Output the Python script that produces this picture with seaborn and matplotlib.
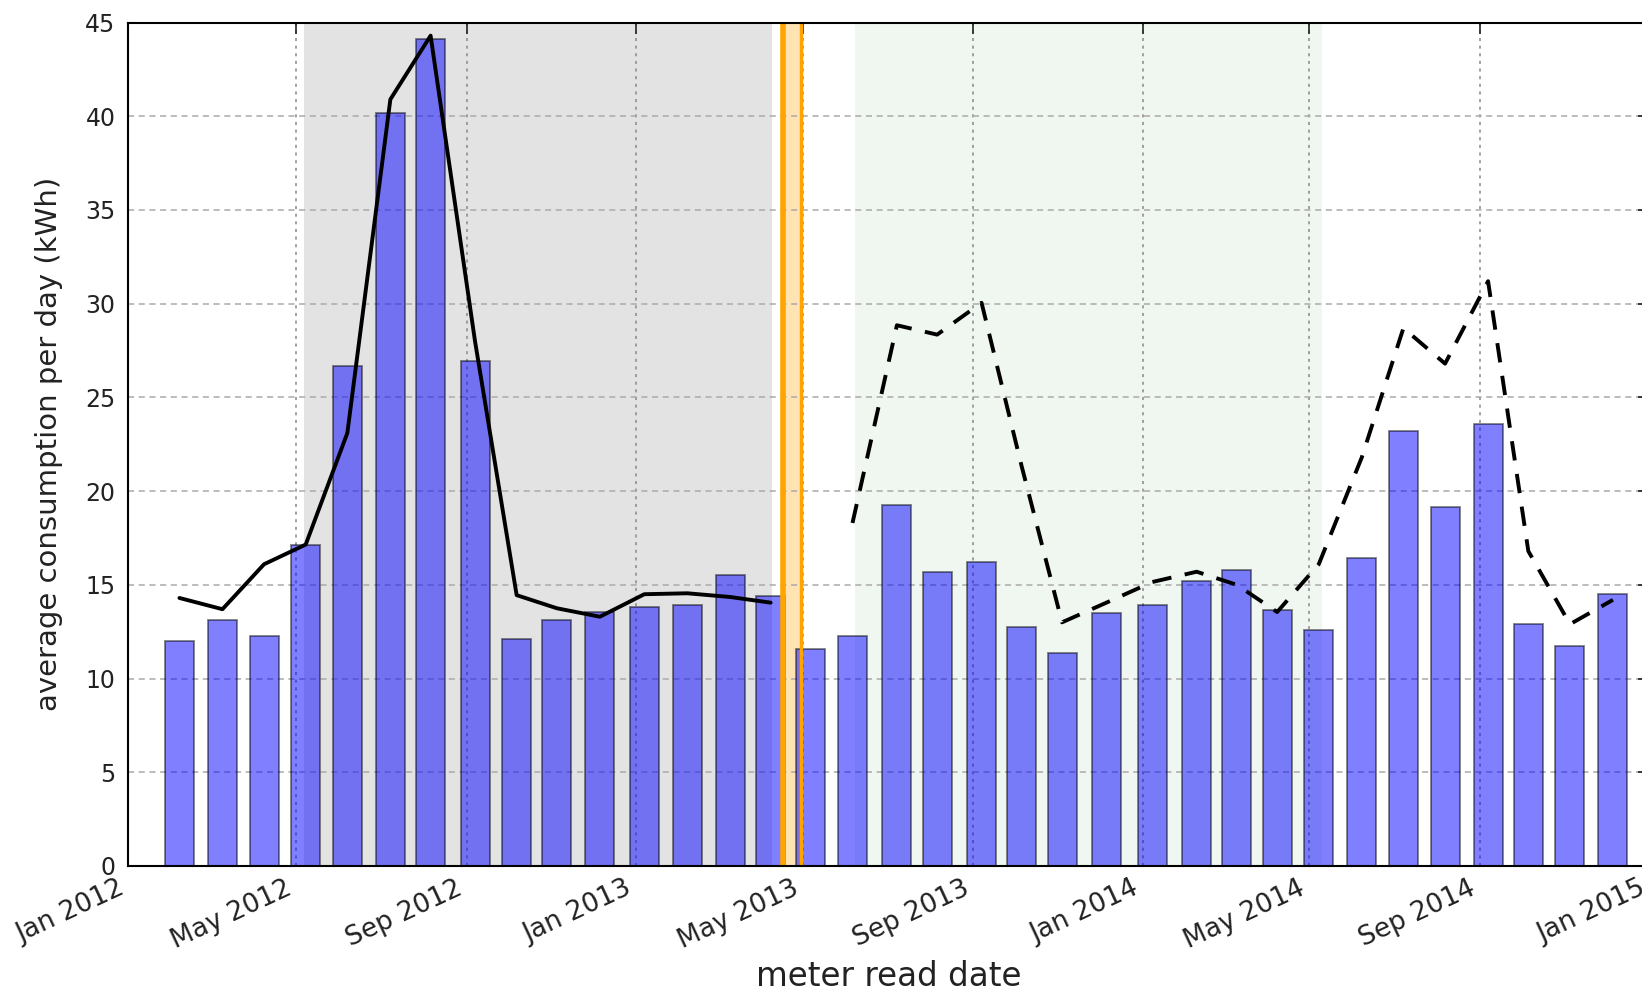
import matplotlib
matplotlib.use("Agg")
import matplotlib.pyplot as plt
import matplotlib.dates as mdates
import seaborn as sns
import pandas as pd

# monthly meter reads
read_dates = ["2012-02-07", "2012-03-09", "2012-04-08", "2012-05-08", "2012-06-07",
              "2012-07-08", "2012-08-06", "2012-09-07", "2012-10-07", "2012-11-05",
              "2012-12-06", "2013-01-07", "2013-02-07", "2013-03-10", "2013-04-08",
              "2013-05-07", "2013-06-06", "2013-07-08", "2013-08-06", "2013-09-07",
              "2013-10-06", "2013-11-04", "2013-12-06", "2014-01-08", "2014-02-09",
              "2014-03-10", "2014-04-08", "2014-05-08", "2014-06-08", "2014-07-08",
              "2014-08-07", "2014-09-07", "2014-10-06", "2014-11-05", "2014-12-06"]

# average consumption per day (kWh)
consumption = [12.0, 13.15, 12.25, 17.1, 26.7, 40.15, 44.1, 26.95, 12.1, 13.15,
               13.55, 13.8, 13.9, 15.55, 14.4, 11.6, 12.25, 19.25, 15.7, 16.2,
               12.75, 11.35, 13.5, 13.9, 15.2, 15.8, 13.65, 12.6, 16.45, 23.2,
               19.15, 23.6, 12.9, 11.75, 14.5]

# baseline model fit (first 15 reads) and prediction (reads 17..35)
baseline_fit = [14.3, 13.7, 16.1, 17.15, 23.1, 40.9, 44.3, 28.0, 14.45, 13.75,
                13.3, 14.5, 14.55, 14.35, 14.05]
baseline_pred = [18.3, 28.85, 28.35, 30.05, 21.3, 13.0, 14.05, 15.15, 15.7, 15.0,
                 13.55, 16.1, 21.8, 28.7, 26.8, 31.2, 16.8, 12.9, 14.2]

# periods
pre_period = ["2012-05-07", "2013-04-09"]
install_period = ["2013-04-17", "2013-04-30"]
post_period = ["2013-06-08", "2014-05-10"]

sns.set_style("white")
plt.rcParams["font.family"] = ["DejaVu Sans"]

def dnum(d):
    return mdates.date2num(pd.Timestamp(d))

x = mdates.date2num(pd.to_datetime(read_dates))
df = pd.DataFrame({"date": x, "kwh": consumption})

fig = plt.figure(figsize=(16.42, 9.93), dpi=100)
ax = fig.add_axes([0.078, 0.1279, 0.9263, 0.8494])

ax.axvspan(dnum(pre_period[0]), dnum(pre_period[1]), color="gray", alpha=0.22, lw=0, zorder=0)
ax.axvspan(dnum(post_period[0]), dnum(post_period[1]), color="green", alpha=0.06, lw=0, zorder=0)
ax.axvspan(dnum(install_period[0]), dnum(install_period[1]), color="orange", alpha=0.3, lw=0, zorder=0)

sns.barplot(data=df, x="date", y="kwh", native_scale=True, width=0.72,
            color="blue", saturation=1, alpha=0.5, edgecolor="black",
            linewidth=1.3, errorbar=None, ax=ax, zorder=1)

ax.axvline(dnum(install_period[0]), color="orange", lw=4, zorder=2)
ax.axvline(dnum(install_period[1]), color="orange", lw=2.5, zorder=2)

sns.lineplot(x=x[:15], y=baseline_fit, color="black", lw=2.8, ax=ax, zorder=3)
sns.lineplot(x=x[16:], y=baseline_pred, color="black", lw=2.8, ax=ax, zorder=3,
             linestyle=(0, (5, 3.5)))

ax.set_xlim(dnum("2012-01-01"), dnum("2015-01-01"))
ax.set_ylim(0, 45)
ax.set_yticks(range(0, 46, 5))
ax.xaxis.set_major_locator(mdates.MonthLocator(bymonth=[1, 5, 9]))
ax.xaxis.set_major_formatter(mdates.DateFormatter("%b %Y"))

ax.yaxis.grid(True, color="#aaaaaa", linestyle=(0, (4, 3)), linewidth=1.1)
ax.xaxis.grid(True, color="#888888", linestyle=(0, (2, 3)), linewidth=1.1)
ax.tick_params(direction="in", length=8, width=1.2, top=True, right=True,
               pad=9, colors="#222222")
ax.tick_params(axis="x", labelsize=19, pad=7)
ax.tick_params(axis="y", labelsize=17)
plt.setp(ax.get_xticklabels(), rotation=25, ha="right")
for s in ax.spines.values():
    s.set_color("black")
    s.set_linewidth(1.5)

ax.set_xlabel("meter read date", fontsize=23.5, color="#222222")
ax.set_ylabel("average consumption per day (kWh)", fontsize=21, color="#222222")
ax.xaxis.set_label_coords(0.5, -0.112)
ax.yaxis.set_label_coords(-0.043, 0.5)

fig.savefig("out.png", dpi=100)
